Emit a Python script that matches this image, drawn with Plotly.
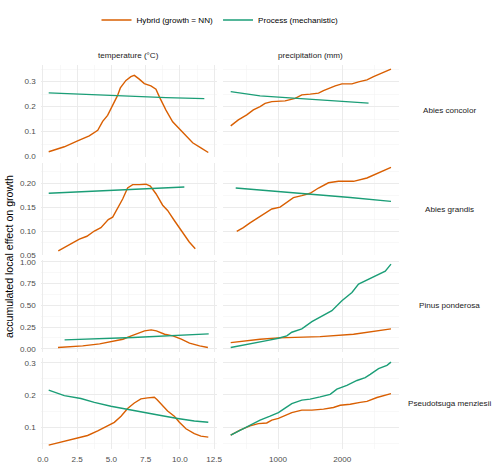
import plotly.graph_objects as go

W, H = 504, 468

species = ["Abies concolor", "Abies grandis", "Pinus ponderosa", "Pseudotsuga menziesii"]
variables = ["temperature (°C)", "precipitation (mm)"]
models = ["Hybrid (growth = NN)", "Process (mechanistic)"]
model_colors = ["#D95F02", "#1B9E77"]

# ---------------- Abies concolor ----------------
abco_temp_hyb_x = [0.42, 1.56, 2.53, 3.38, 4.0, 4.36, 4.72, 5.09, 5.45, 5.65, 6.06, 6.42, 6.67, 7.03, 7.4, 7.88, 8.25, 8.5, 8.98, 9.47, 10.2, 10.93, 11.53, 12.07]
abco_temp_hyb_y = [0.019, 0.039, 0.063, 0.083, 0.105, 0.141, 0.165, 0.205, 0.245, 0.275, 0.305, 0.32, 0.325, 0.31, 0.292, 0.283, 0.27, 0.239, 0.186, 0.139, 0.099, 0.055, 0.035, 0.016]
abco_temp_pro_x = [0.42, 3.0, 6.0, 9.0, 11.78]
abco_temp_pro_y = [0.255, 0.249, 0.242, 0.236, 0.232]
abco_prec_hyb_x = [261, 380, 511, 614, 719, 797, 902, 1109, 1266, 1370, 1500, 1630, 1708, 1812, 1891, 1995, 2152, 2255, 2386, 2489, 2620, 2761]
abco_prec_hyb_y = [0.123, 0.147, 0.167, 0.187, 0.2, 0.213, 0.22, 0.223, 0.233, 0.247, 0.25, 0.254, 0.264, 0.276, 0.283, 0.291, 0.291, 0.299, 0.307, 0.32, 0.334, 0.35]
abco_prec_pro_x = [261, 719, 1239, 1761, 2411]
abco_prec_pro_y = [0.26, 0.243, 0.234, 0.224, 0.214]

# ---------------- Abies grandis ----------------
abgr_temp_hyb_x = [1.12, 1.93, 2.66, 3.21, 3.75, 4.23, 4.77, 5.09, 5.45, 5.82, 6.18, 6.55, 7.03, 7.52, 7.84, 8.25, 8.74, 9.1, 9.59, 10.07, 10.68, 11.12]
abgr_temp_hyb_y = [0.0585, 0.072, 0.083, 0.089, 0.100, 0.107, 0.124, 0.129, 0.147, 0.167, 0.190, 0.197, 0.197, 0.198, 0.194, 0.178, 0.154, 0.143, 0.122, 0.101, 0.077, 0.063]
abgr_temp_pro_x = [0.42, 5.0, 10.32]
abgr_temp_pro_y = [0.179, 0.185, 0.192]
abgr_prec_hyb_x = [355, 458, 562, 667, 770, 902, 1031, 1136, 1239, 1370, 1500, 1630, 1786, 1942, 2177, 2386, 2542, 2761]
abgr_prec_hyb_y = [0.099, 0.107, 0.117, 0.126, 0.136, 0.146, 0.150, 0.160, 0.170, 0.174, 0.179, 0.190, 0.201, 0.204, 0.204, 0.211, 0.220, 0.233]
abgr_prec_pro_x = [339, 980, 1500, 2125, 2761]
abgr_prec_pro_y = [0.190, 0.183, 0.176, 0.170, 0.162]

# ---------------- Pinus ponderosa ----------------
pipo_temp_hyb_x = [1.1, 2.9, 4.14, 5.1, 5.84, 6.45, 6.93, 7.42, 7.9, 8.28, 8.88, 9.49, 10.1, 10.7, 11.44, 12.04]
pipo_temp_hyb_y = [0.015, 0.034, 0.057, 0.084, 0.110, 0.149, 0.180, 0.206, 0.218, 0.206, 0.168, 0.149, 0.111, 0.065, 0.034, 0.015]
pipo_temp_pro_x = [1.58, 6.57, 12.1]
pipo_temp_pro_y = [0.103, 0.130, 0.172]
pipo_prec_hyb_x = [261, 719, 1005, 1656, 2177, 2437, 2761]
pipo_prec_hyb_y = [0.072, 0.111, 0.126, 0.141, 0.168, 0.195, 0.229]
pipo_prec_pro_x = [261, 562, 823, 1005, 1136, 1214, 1370, 1527, 1605, 1839, 1995, 2152, 2255, 2386, 2542, 2672, 2761]
pipo_prec_pro_y = [0.015, 0.054, 0.095, 0.122, 0.149, 0.191, 0.229, 0.313, 0.344, 0.439, 0.553, 0.649, 0.745, 0.790, 0.848, 0.893, 0.974]

# ---------------- Pseudotsuga menziesii ----------------
psme_temp_hyb_x = [0.42, 1.56, 2.53, 3.26, 4.0, 4.6, 5.21, 5.7, 6.18, 6.67, 7.15, 7.64, 8.13, 8.32, 8.74, 9.1, 9.59, 9.96, 10.44, 11.05, 11.53, 12.07]
psme_temp_hyb_y = [0.044, 0.057, 0.066, 0.074, 0.088, 0.101, 0.115, 0.134, 0.158, 0.175, 0.188, 0.191, 0.193, 0.186, 0.165, 0.150, 0.134, 0.115, 0.095, 0.080, 0.072, 0.069]
psme_temp_pro_x = [0.42, 1.56, 2.77, 3.75, 4.96, 6.18, 7.4, 8.61, 9.83, 11.05, 12.07]
psme_temp_pro_y = [0.215, 0.198, 0.189, 0.177, 0.165, 0.155, 0.144, 0.136, 0.127, 0.119, 0.115]
psme_prec_hyb_x = [261, 406, 562, 692, 823, 902, 1005, 1109, 1214, 1370, 1527, 1708, 1864, 1969, 2125, 2281, 2386, 2542, 2761]
psme_prec_hyb_y = [0.075, 0.091, 0.104, 0.111, 0.113, 0.122, 0.127, 0.137, 0.145, 0.153, 0.153, 0.156, 0.161, 0.168, 0.171, 0.177, 0.180, 0.192, 0.204]
psme_prec_pro_x = [261, 458, 614, 719, 875, 1005, 1109, 1214, 1370, 1500, 1656, 1812, 1917, 2073, 2230, 2359, 2437, 2567, 2698, 2761]
psme_prec_pro_y = [0.075, 0.096, 0.111, 0.122, 0.134, 0.145, 0.159, 0.173, 0.184, 0.187, 0.194, 0.202, 0.218, 0.230, 0.245, 0.254, 0.264, 0.282, 0.292, 0.302]

# tick labels
temp_ticks = [0.0, 2.5, 5.0, 7.5, 10.0, 12.5]
temp_tick_labels = ["0.0", "2.5", "5.0", "7.5", "10.0", "12.5"]
temp_minor = [1.25, 3.75, 6.25, 8.75, 11.25]
prec_ticks = [1000, 2000]
prec_tick_labels = ["1000", "2000"]
prec_minor = [500, 1500, 2500]
row_ticks = [
    [0.0, 0.1, 0.2, 0.3],
    [0.05, 0.10, 0.15, 0.20],
    [0.0, 0.25, 0.5, 0.75, 1.0],
    [0.1, 0.2, 0.3],
]
row_tick_labels = [
    ["0.0", "0.1", "0.2", "0.3"],
    ["0.05", "0.10", "0.15", "0.20"],
    ["0.00", "0.25", "0.50", "0.75", "1.00"],
    ["0.1", "0.2", "0.3"],
]
row_minor = [
    [0.05, 0.15, 0.25, 0.35],
    [0.075, 0.125, 0.175, 0.225],
    [0.125, 0.375, 0.625, 0.875],
    [0.05, 0.15, 0.25],
]

panels = [
    [(abco_temp_hyb_x, abco_temp_hyb_y, abco_temp_pro_x, abco_temp_pro_y),
     (abco_prec_hyb_x, abco_prec_hyb_y, abco_prec_pro_x, abco_prec_pro_y)],
    [(abgr_temp_hyb_x, abgr_temp_hyb_y, abgr_temp_pro_x, abgr_temp_pro_y),
     (abgr_prec_hyb_x, abgr_prec_hyb_y, abgr_prec_pro_x, abgr_prec_pro_y)],
    [(pipo_temp_hyb_x, pipo_temp_hyb_y, pipo_temp_pro_x, pipo_temp_pro_y),
     (pipo_prec_hyb_x, pipo_prec_hyb_y, pipo_prec_pro_x, pipo_prec_pro_y)],
    [(psme_temp_hyb_x, psme_temp_hyb_y, psme_temp_pro_x, psme_temp_pro_y),
     (psme_prec_hyb_x, psme_prec_hyb_y, psme_prec_pro_x, psme_prec_pro_y)],
]

# layout geometry (pixels)
col_px = [(40.7, 216.7), (222.7, 399.0)]
row_px = [(65.0, 156.7), (163.3, 255.0), (260.0, 351.7), (358.0, 449.3)]

FONT = "Liberation Sans, Arial, sans-serif"
TICK_COLOR = "#4D4D4D"
GRID = "#EBEBEB"
GRID_MINOR = "#F3F3F3"
FS = 8.1


def expand(vals, frac=0.05):
    lo, hi = min(vals), max(vals)
    d = (hi - lo) * frac
    return [lo - d, hi + d]


fig = go.Figure()
layout = {}

temp_all = [v for r in panels for s in (r[0][0], r[0][2]) for v in s]
prec_all = [v for r in panels for s in (r[1][0], r[1][2]) for v in s]
x_ranges = [expand(temp_all), expand(prec_all)]

for r in range(4):
    row_vals = []
    for c in range(2):
        hx, hy, px_, py_ = panels[r][c]
        row_vals += hy + py_
    y_range = expand(row_vals)
    for c in range(2):
        k = r * 2 + c + 1
        sfx = "" if k == 1 else str(k)
        hx, hy, px_, py_ = panels[r][c]
        for (xs, ys, name, col) in [(hx, hy, models[0], model_colors[0]), (px_, py_, models[1], model_colors[1])]:
            fig.add_trace(go.Scatter(
                x=xs, y=ys, mode="lines", name=name,
                line=dict(color=col, width=1.4),
                xaxis="x" + sfx, yaxis="y" + sfx,
                legendgroup=name, showlegend=(k == 1),
                hoverinfo="skip",
            ))
        x0, x1 = col_px[c]
        y0, y1 = row_px[r]
        show_x = (r == 3)
        show_y = (c == 0)
        layout["xaxis" + sfx] = dict(
            domain=[x0 / W, x1 / W], anchor="y" + sfx, range=x_ranges[c],
            showgrid=True, gridcolor=GRID, gridwidth=1, zeroline=False, showline=False,
            tickmode="array",
            tickvals=temp_ticks if c == 0 else prec_ticks,
            ticktext=temp_tick_labels if c == 0 else prec_tick_labels,
            showticklabels=show_x, ticks="", ticklabelstandoff=4,
            tickfont=dict(size=FS, color=TICK_COLOR, family=FONT),
            minor=dict(showgrid=True, gridcolor=GRID_MINOR, gridwidth=0.6,
                       tickmode="array", tickvals=temp_minor if c == 0 else prec_minor),
            automargin=False, fixedrange=True,
        )
        layout["yaxis" + sfx] = dict(
            domain=[1 - y1 / H, 1 - y0 / H], anchor="x" + sfx, range=y_range,
            showgrid=True, gridcolor=GRID, gridwidth=1, zeroline=False, showline=False,
            tickmode="array",
            tickvals=row_ticks[r], ticktext=row_tick_labels[r],
            showticklabels=show_y, ticks="", ticklabelstandoff=4,
            tickfont=dict(size=FS, color=TICK_COLOR, family=FONT),
            minor=dict(showgrid=True, gridcolor=GRID_MINOR, gridwidth=0.6,
                       tickmode="array", tickvals=row_minor[r]),
            automargin=False, fixedrange=True,
        )

annotations = []
# column strips
for c in range(2):
    x0, x1 = col_px[c]
    annotations.append(dict(text=variables[c], x=(x0 + x1) / 2 / W, y=1 - 55 / H,
                            xref="paper", yref="paper", showarrow=False,
                            xanchor="center", yanchor="middle",
                            font=dict(size=FS, color="#1A1A1A", family=FONT)))
# row strips
for r in range(4):
    y0, y1 = row_px[r]
    annotations.append(dict(text=species[r], x=449 / W, y=1 - (y0 + y1) / 2 / H,
                            xref="paper", yref="paper", showarrow=False,
                            xanchor="center", yanchor="middle",
                            font=dict(size=FS, color="#1A1A1A", family=FONT)))
# y axis title
annotations.append(dict(text="accumulated local effect on growth", x=9 / W, y=1 - 257 / H,
                        xref="paper", yref="paper", showarrow=False, textangle=-90,
                        xanchor="center", yanchor="middle",
                        font=dict(size=10.6, color="#000000", family=FONT)))

fig.update_layout(
    width=W, height=H,
    margin=dict(l=0, r=0, t=0, b=0),
    paper_bgcolor="white", plot_bgcolor="white",
    font=dict(family=FONT, size=FS, color="#000000"),
    showlegend=True,
    legend=dict(orientation="h", x=220 / W, xanchor="center", y=1 - 20 / H, yanchor="middle",
                font=dict(size=FS, color="#000000", family=FONT),
                itemwidth=30, bgcolor="rgba(0,0,0,0)", traceorder="normal"),
    annotations=annotations,
    **layout,
)

fig.write_html(
    "out.html",
    config={"displayModeBar": False, "staticPlot": True},
    post_script="document.body.style.margin='0';document.body.style.padding='0';document.body.style.overflow='hidden';",
)
